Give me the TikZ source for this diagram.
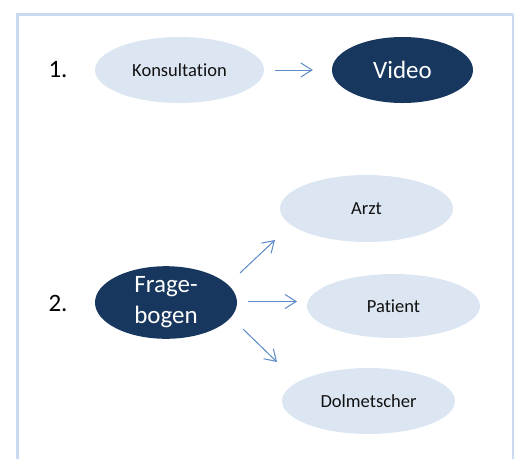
\documentclass[tikz,border=0pt]{standalone}
\usepackage{fontspec}
\setmainfont{Carlito}[Ligatures=NoCommon]
\usetikzlibrary{shapes.geometric,arrows.meta}
\definecolor{lightfill}{HTML}{DCE6F2}
\definecolor{darkfill}{HTML}{17375E}
\definecolor{arrowblue}{HTML}{5B8AC6}
\definecolor{framecol}{HTML}{C9DAF0}
\definecolor{labelcol}{HTML}{111111}
\tikzset{
  light/.style={ellipse, fill=lightfill, inner sep=0pt, text=labelcol,
    font=\fontsize{18.5}{22}\selectfont},
  dark/.style={ellipse, fill=darkfill, inner sep=0pt, text=white,
    font=\fontsize{25}{31}\selectfont, align=center},
  num/.style={font=\fontsize{25}{30}\selectfont, text=black, inner sep=0pt},
  arr/.style={draw=arrowblue, line width=1pt,
    -{Straight Barb[length=11pt,width=14pt,line width=1pt]}}
}
\begin{document}
\begin{tikzpicture}[x=1pt,y=-1pt]
\useasboundingbox (0,0) rectangle (514,459);
% frame
\draw[framecol, line width=3pt] (17.5,459) -- (17.5,14) -- (513,14);
\draw[framecol, line width=1.5pt] (513,14) -- (513,459);

% row 1
\node[num] (n1) at (58,70) {1.};
\node[light, minimum width=169pt, minimum height=66pt] (kons) at (179.5,70) {Konsultation};
\node[dark, minimum width=141pt, minimum height=66pt] (video) at (402.5,70) {Video};
\draw[arr, shorten <=11pt, shorten >=19pt] (kons) -- (video);

% row 2
\node[num] (n2) at (58,303) {2.};
\node[dark, minimum width=142pt, minimum height=67pt] (frage) at (166,302.5) {Frage-\\bogen};
\node[light, minimum width=173pt, minimum height=67pt] (arzt) at (366.5,208.5) {Arzt};
\node[light, minimum width=173pt, minimum height=64pt] (patient) at (393.5,306) {Patient};
\node[light, minimum width=173pt, minimum height=66pt] (dolm) at (368.5,401) {Dolmetscher};

\coordinate (aS) at (240,273);
\coordinate (aE) at (275,240);
\coordinate (pS) at (248,301.5);
\coordinate (pE) at (297,301.5);
\coordinate (dS) at (243,329);
\coordinate (dE) at (277,362);
\draw[arr] (aS) -- (aE);
\draw[arr] (pS) -- (pE);
\draw[arr] (dS) -- (dE);
\end{tikzpicture}
\end{document}
